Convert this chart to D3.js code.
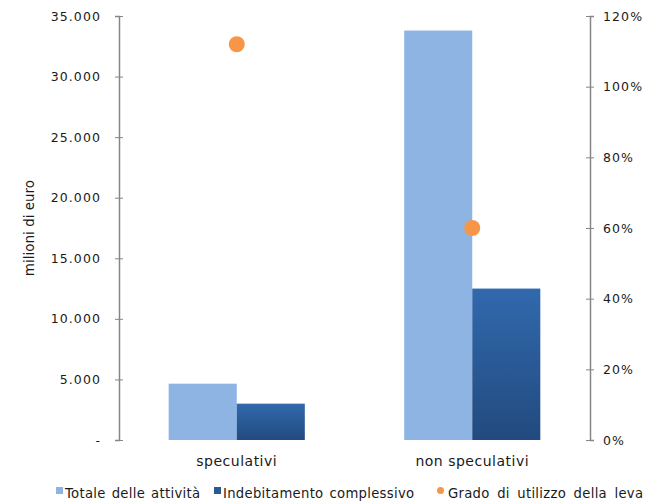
<!DOCTYPE html>
<html>
<head>
<meta charset="utf-8">
<script src="https://cdn.jsdelivr.net/npm/d3@7"></script>
<style>
  body { margin: 0; background: #fff; }
  text { font-family: "DejaVu Sans", sans-serif; fill: #1a1a1a; }
</style>
</head>
<body>
<div id="chart"></div>
<script>
// dati
const categories = ['speculativi', 'non speculativi'];
const totaleAttivita = [4650, 33800];
const indebitamento = [3000, 12500];
const gradoLeva = [1.12, 0.60];
const leftTicks = [0, 5000, 10000, 15000, 20000, 25000, 30000, 35000];
const leftTickLabels = ['-', '5.000', '10.000', '15.000', '20.000', '25.000', '30.000', '35.000'];
const rightTicks = [0, 0.2, 0.4, 0.6, 0.8, 1.0, 1.2];
const rightTickLabels = ['0%', '20%', '40%', '60%', '80%', '100%', '120%'];
const seriesNames = ['Totale delle attività', 'Indebitamento complessivo', 'Grado di utilizzo della leva'];

const width = 645, height = 503;
const margin = {top: 16, right: 55, bottom: 63, left: 119};

const svg = d3.select('#chart').append('svg')
  .attr('width', width)
  .attr('height', height);

const defs = svg.append('defs');
const grad = defs.append('linearGradient')
  .attr('id', 'gradDark')
  .attr('x1', 0).attr('y1', 0).attr('x2', 0).attr('y2', 1);
grad.append('stop').attr('offset', '0%').attr('stop-color', '#3169ad');
grad.append('stop').attr('offset', '100%').attr('stop-color', '#224a7e');

const x0 = d3.scaleBand()
  .domain(categories)
  .range([margin.left, width - margin.right])
  .padding(0);
const x1 = d3.scaleBand()
  .domain([0, 1])
  .range([0, x0.bandwidth()])
  .paddingInner(0)
  .paddingOuter(0.73);
const yL = d3.scaleLinear().domain([0, 35000]).range([height - margin.bottom, margin.top]);
const yR = d3.scaleLinear().domain([0, 1.2]).range([height - margin.bottom, margin.top]);

// barre
const barData = [totaleAttivita, indebitamento];
const barFill = ['#8eb4e3', 'url(#gradDark)'];
barData.forEach((vals, s) => {
  svg.append('g').selectAll('rect')
    .data(vals)
    .enter().append('rect')
      .attr('x', (d, i) => x0(categories[i]) + x1(s))
      .attr('y', d => yL(d))
      .attr('width', x1.bandwidth())
      .attr('height', d => yL(0) - yL(d))
      .attr('fill', barFill[s]);
});

// assi
const axisColor = '#868686';
let leftAxis = g => g.attr('transform', `translate(${margin.left},0)`)
  .call(d3.axisLeft(yL).tickValues(leftTicks).tickSize(4).tickPadding(14)
    .tickFormat((d, i) => leftTickLabels[i]))
  .call(g => g.select('.domain').attr('stroke', axisColor).attr('stroke-width', 1.5))
  .call(g => g.selectAll('.tick line').attr('stroke', axisColor).attr('x2', -4).clone().attr('x2', 4))
  .call(g => g.selectAll('.tick text')
    .attr('font-size', 12.5).attr('letter-spacing', 1.1)
    .attr('font-family', '"DejaVu Sans", sans-serif').attr('fill', '#1a1a1a'));
let rightAxis = g => g.attr('transform', `translate(${width - margin.right},0)`)
  .call(d3.axisRight(yR).tickValues(rightTicks).tickSize(4).tickPadding(9)
    .tickFormat((d, i) => rightTickLabels[i]))
  .call(g => g.select('.domain').attr('stroke', axisColor).attr('stroke-width', 1.5))
  .call(g => g.selectAll('.tick line').attr('stroke', axisColor).clone().attr('x2', -4))
  .call(g => g.selectAll('.tick text')
    .attr('font-size', 12.5).attr('letter-spacing', 1.1)
    .attr('font-family', '"DejaVu Sans", sans-serif').attr('fill', '#1a1a1a'));
svg.append('g').call(leftAxis);
svg.append('g').call(rightAxis);

// punti leva
svg.append('g').selectAll('circle')
  .data(gradoLeva)
  .enter().append('circle')
    .attr('cx', (d, i) => x0(categories[i]) + x0.bandwidth() / 2)
    .attr('cy', d => yR(d))
    .attr('r', 8)
    .attr('fill', '#f79646');

// etichette categorie
svg.append('g').selectAll('text')
  .data(categories)
  .enter().append('text')
    .attr('x', d => x0(d) + x0.bandwidth() / 2)
    .attr('y', 466)
    .attr('text-anchor', 'middle')
    .attr('font-size', 14)
    .attr('letter-spacing', 0.5)
    .text(d => d);

// titolo asse
svg.append('text')
  .attr('transform', `translate(34, ${(margin.top + height - margin.bottom) / 2}) rotate(-90)`)
  .attr('text-anchor', 'middle')
  .attr('font-size', 13.5)
  .text('milioni di euro');

// legenda
const legendX = [56, 214, 437];
const legend = svg.append('g');
seriesNames.forEach((name, i) => {
  let g = legend.append('g').attr('transform', `translate(${legendX[i]}, 494)`);
  if (i < 2) {
    g.append('rect').attr('x', 0).attr('y', -7).attr('width', 7).attr('height', 7)
      .attr('fill', i === 0 ? '#8eb4e3' : '#2a5a96');
  } else {
    g.append('circle').attr('cx', 3.5).attr('cy', -3.5).attr('r', 3.5).attr('fill', '#f79646');
  }
  g.append('text').attr('x', i < 2 ? 9 : 11).attr('y', 4)
    .attr('font-size', 13.2).attr('letter-spacing', 0.3)
    .attr('word-spacing', i === 2 ? 3 : 1.5)
    .text(name);
});
</script>
</body>
</html>
